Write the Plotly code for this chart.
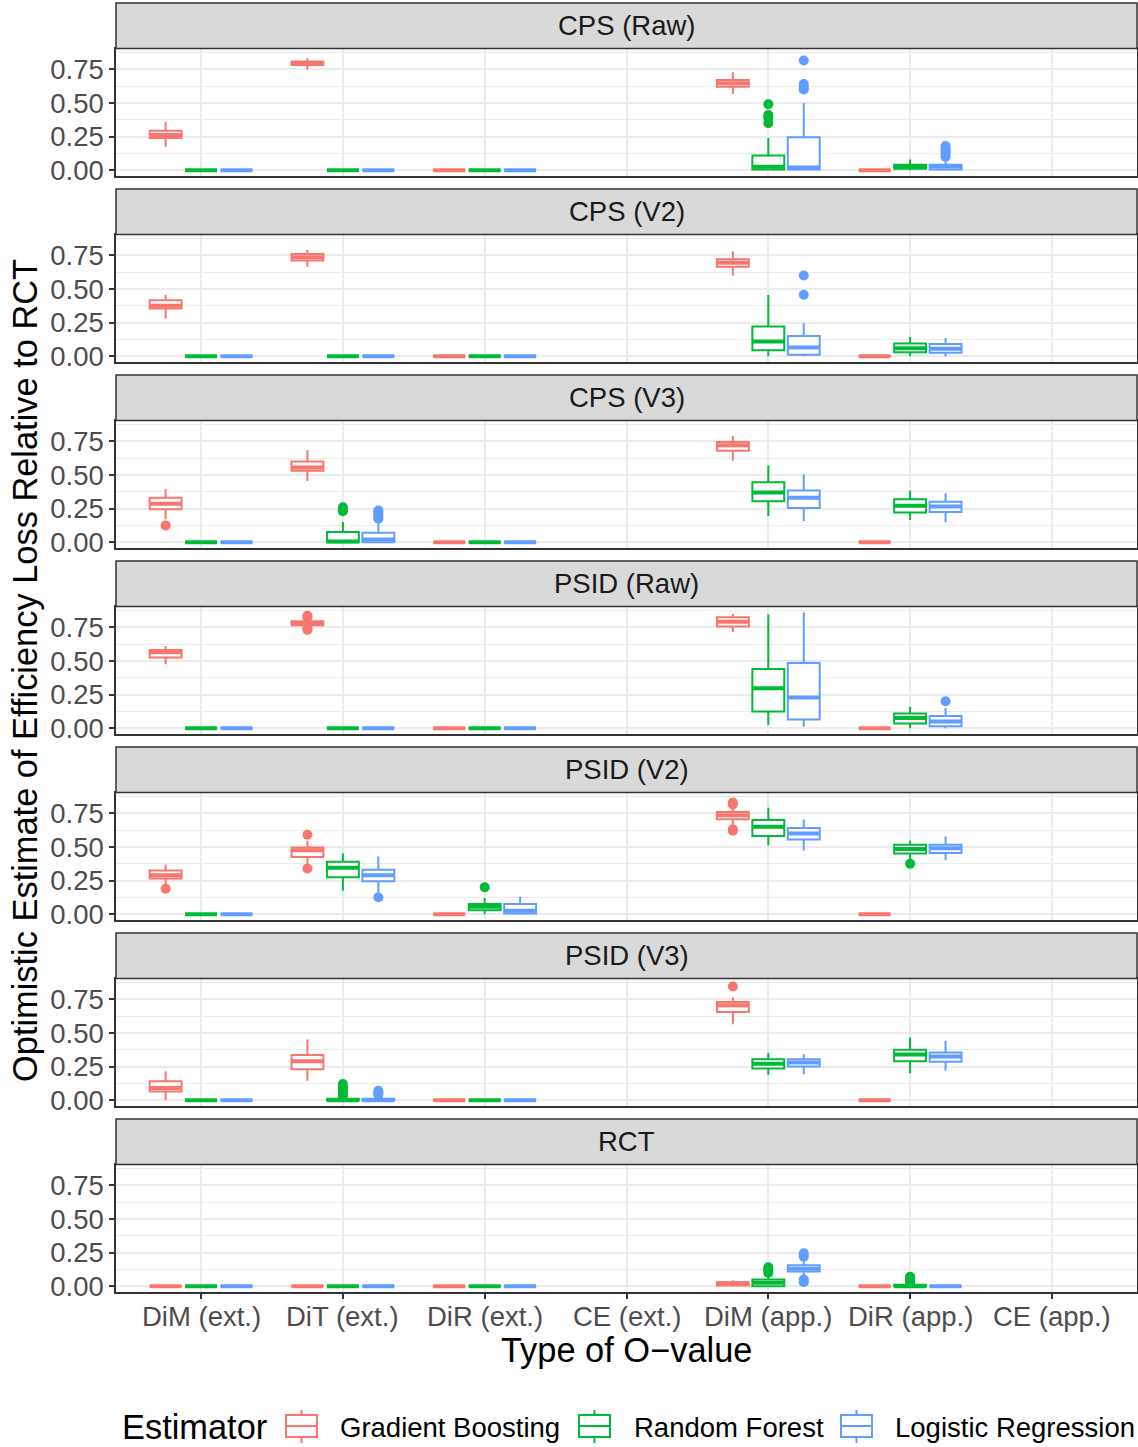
import plotly.graph_objects as go

CATEGORIES = ["DiM (ext.)", "DiT (ext.)", "DiR (ext.)", "CE (ext.)",
              "DiM (app.)", "DiR (app.)", "CE (app.)"]
FACETS = ["CPS (Raw)", "CPS (V2)", "CPS (V3)", "PSID (Raw)",
          "PSID (V2)", "PSID (V3)", "RCT"]
ESTIMATORS = ["Gradient Boosting", "Random Forest", "Logistic Regression"]
COLORS = ["#F8766D", "#00BA38", "#619CFF"]
Y_TICKS = [0, 0.25, 0.5, 0.75]
Y_TICK_LABELS = ["0.00", "0.25", "0.50", "0.75"]

# box statistics: (lower whisker, q1, median, q3, upper whisker); None = no data
Z = (0.0, 0.0, 0.0, 0.0, 0.0)

GB_BOXES = [
    [(0.175, 0.24, 0.262, 0.293, 0.36), (0.748, 0.782, 0.795, 0.807, 0.832), Z, None,
     (0.566, 0.62, 0.645, 0.67, 0.728), Z, None],
    [(0.28, 0.355, 0.375, 0.415, 0.455), (0.665, 0.71, 0.735, 0.76, 0.79), Z, None,
     (0.60, 0.665, 0.695, 0.72, 0.78), Z, None],
    [(0.17, 0.245, 0.285, 0.33, 0.395), (0.455, 0.53, 0.555, 0.60, 0.685), Z, None,
     (0.605, 0.68, 0.72, 0.745, 0.79), Z, None],
    [(0.475, 0.525, 0.565, 0.58, 0.61), (0.75, 0.765, 0.78, 0.795, 0.81), Z, None,
     (0.715, 0.755, 0.79, 0.825, 0.85), Z, None],
    [(0.225, 0.265, 0.29, 0.325, 0.37), (0.375, 0.425, 0.475, 0.495, 0.545), Z, None,
     (0.665, 0.705, 0.735, 0.76, 0.79), Z, None],
    [(0.0, 0.065, 0.09, 0.14, 0.215), (0.145, 0.23, 0.29, 0.335, 0.45), Z, None,
     (0.565, 0.655, 0.705, 0.73, 0.765), Z, None],
    [Z, Z, Z, None, (0.0, 0.005, 0.02, 0.03, 0.045), Z, None],
]

RF_BOXES = [
    [Z, Z, Z, None, (0.0, 0.005, 0.025, 0.11, 0.24), (0.0, 0.01, 0.025, 0.04, 0.08), None],
    [Z, Z, Z, None, (0.0, 0.045, 0.11, 0.22, 0.455), (0.0, 0.03, 0.06, 0.095, 0.145), None],
    [Z, (0.0, 0.0, 0.005, 0.075, 0.15), Z, None, (0.195, 0.305, 0.37, 0.445, 0.57),
     (0.165, 0.22, 0.27, 0.32, 0.385), None],
    [Z, Z, Z, None, (0.025, 0.125, 0.297, 0.44, 0.845), (0.0, 0.035, 0.075, 0.11, 0.16), None],
    [Z, (0.175, 0.275, 0.345, 0.39, 0.45), (0.0, 0.03, 0.055, 0.075, 0.12), None,
     (0.51, 0.58, 0.65, 0.70, 0.79), (0.41, 0.45, 0.485, 0.515, 0.545), None],
    [Z, (0.0, 0.0, 0.0, 0.01, 0.02), Z, None, (0.19, 0.235, 0.27, 0.305, 0.35),
     (0.2, 0.29, 0.34, 0.375, 0.465), None],
    [Z, Z, Z, None, (0.0, 0.0, 0.025, 0.05, 0.085), (0.0, 0.0, 0.0, 0.01, 0.02), None],
]

LR_BOXES = [
    [Z, Z, Z, None, (0.0, 0.005, 0.02, 0.245, 0.50), (0.0, 0.005, 0.027, 0.04, 0.07), None],
    [Z, Z, Z, None, (0.0, 0.01, 0.065, 0.15, 0.245), (0.0, 0.025, 0.055, 0.09, 0.135), None],
    [Z, (0.0, 0.0, 0.02, 0.07, 0.14), Z, None, (0.155, 0.255, 0.33, 0.385, 0.505),
     (0.148, 0.225, 0.265, 0.30, 0.363), None],
    [Z, Z, Z, None, (0.01, 0.064, 0.228, 0.485, 0.861), (0.0, 0.015, 0.05, 0.09, 0.15), None],
    [Z, (0.163, 0.245, 0.29, 0.33, 0.428), (0.0, 0.005, 0.025, 0.075, 0.131), None,
     (0.473, 0.555, 0.60, 0.64, 0.703), (0.40, 0.455, 0.49, 0.515, 0.577), None],
    [Z, (0.0, 0.0, 0.0, 0.01, 0.02), Z, None, (0.193, 0.25, 0.28, 0.305, 0.342),
     (0.22, 0.285, 0.325, 0.355, 0.44), None],
    [Z, Z, Z, None, (0.075, 0.11, 0.13, 0.155, 0.19), Z, None],
]

# outliers: (facet index, category index, values)
GB_OUTLIERS = [(2, 0, [0.125]), (3, 1, [0.825, 0.835, 0.74, 0.73]), (4, 0, [0.19]),
               (4, 1, [0.59, 0.34]), (4, 4, [0.83, 0.815, 0.63, 0.62]), (5, 4, [0.845])]
RF_OUTLIERS = [(0, 4, [0.49, 0.41, 0.39, 0.35]), (2, 1, [0.26, 0.245, 0.23]), (4, 2, [0.2]),
               (4, 5, [0.375]), (5, 1, [0.12, 0.10, 0.08, 0.06, 0.04, 0.03]),
               (6, 4, [0.14, 0.125, 0.11, 0.10]), (6, 5, [0.07, 0.06, 0.05, 0.04, 0.03])]
LR_OUTLIERS = [(0, 4, [0.815, 0.64, 0.62, 0.60]), (0, 5, [0.18, 0.16, 0.14, 0.12, 0.10]),
               (1, 4, [0.60, 0.457]), (2, 1, [0.235, 0.22, 0.205, 0.19, 0.175]),
               (3, 5, [0.2]), (4, 1, [0.126]), (5, 1, [0.07, 0.06, 0.05, 0.04]),
               (6, 4, [0.245, 0.22, 0.05, 0.03])]

ALL_BOXES = [GB_BOXES, RF_BOXES, LR_BOXES]
ALL_OUTLIERS = [GB_OUTLIERS, RF_OUTLIERS, LR_OUTLIERS]

# ---------------- layout geometry (pixels) ----------------
W, H = 1138, 1447
ML, MR, MT, MB = 116, 1, 0, 154
PW = W - ML - MR
PH = H - MT - MB
DODGE = [-0.25, 0.0, 0.25]
BOXW = 0.225
FONT = "Liberation Sans, Arial, Helvetica, sans-serif"
TXT = 27.5
TITLE = 34.4
LEGEND_KEY_X = [286, 579, 841]   # left edge of legend keys
LEGEND_TEXT_X = [338, 632, 893]  # left edge of legend labels
LEGEND_Y = 1427
XTICK_Y = 1316


def yp(px):
    return 1 - (px - MT) / PH


def xp(px):
    return (px - ML) / PW


fig = go.Figure()
layout = {}
shapes = []
annotations = []

n = len(FACETS)
for i, facet in enumerate(FACETS):
    k = i + 1
    xa = "x" if k == 1 else f"x{k}"
    ya = "y" if k == 1 else f"y{k}"
    for e, est in enumerate(ESTIMATORS):
        boxes = ALL_BOXES[e][i]
        xs, lo, q1, md, q3, hi = [], [], [], [], [], []
        for c, b in enumerate(boxes):
            if b is None:
                continue
            xs.append(c + 1 + DODGE[e])
            lo.append(b[0]); q1.append(b[1]); md.append(b[2]); q3.append(b[3]); hi.append(b[4])
        fig.add_trace(go.Box(
            x=xs, q1=q1, median=md, q3=q3, lowerfence=lo, upperfence=hi,
            width=BOXW, whiskerwidth=0, boxpoints=False,
            fillcolor="white", line=dict(color=COLORS[e], width=2),
            name=est, showlegend=False,
            xaxis=xa, yaxis=ya, hoverinfo="skip"))
        # thicker median line (ggplot style)
        mx, my = [], []
        for xv, mv in zip(xs, md):
            mx += [xv - BOXW / 2, xv + BOXW / 2, None]
            my += [mv, mv, None]
        fig.add_trace(go.Scatter(
            x=mx, y=my, mode="lines", line=dict(color=COLORS[e], width=4),
            showlegend=False, xaxis=xa, yaxis=ya, hoverinfo="skip"))
        ox, oy = [], []
        for (f, c, vals) in ALL_OUTLIERS[e]:
            if f == i:
                for v in vals:
                    ox.append(c + 1 + DODGE[e])
                    oy.append(v)
        if ox:
            fig.add_trace(go.Scatter(
                x=ox, y=oy, mode="markers",
                marker=dict(color=COLORS[e], size=10, line=dict(width=0)),
                showlegend=False, xaxis=xa, yaxis=ya, hoverinfo="skip"))

    strip_top = 3 + 186 * i
    panel_top = 48.5 + 186 * i
    panel_bot = 176 + 186 * i
    bottom = (i == n - 1)
    layout["xaxis" if k == 1 else f"xaxis{k}"] = dict(
        domain=[0, 1], anchor=ya, range=[0.4, 7.6], type="linear",
        tickvals=list(range(1, len(CATEGORIES) + 1)), ticktext=CATEGORIES,
        showticklabels=False, ticks="outside" if bottom else "",
        ticklen=5, tickwidth=1.5, tickcolor="#333333",
        showgrid=True, gridcolor="#EBEBEB", gridwidth=2,
        showline=True, mirror=True, linecolor="#333333", linewidth=1.5,
        zeroline=False, fixedrange=True)
    layout["yaxis" if k == 1 else f"yaxis{k}"] = dict(
        domain=[yp(panel_bot), yp(panel_top)], anchor=xa,
        range=[-0.043, 0.904], tickvals=Y_TICKS, ticktext=Y_TICK_LABELS,
        ticks="outside", ticklen=5, tickwidth=1.5, tickcolor="#333333",
        tickfont=dict(size=TXT, color="#4D4D4D", family=FONT),
        showgrid=True, gridcolor="#EBEBEB", gridwidth=2,
        minor=dict(tickvals=[0.125, 0.375, 0.625, 0.875], showgrid=True,
                   gridcolor="#EBEBEB", gridwidth=1, ticks=""),
        showline=True, mirror=True, linecolor="#333333", linewidth=1.5,
        zeroline=False, fixedrange=True)
    shapes.append(dict(type="rect", xref="paper", yref="paper",
                       x0=0, x1=1, y0=yp(panel_top), y1=yp(strip_top),
                       fillcolor="#D9D9D9", line=dict(color="#333333", width=1.5),
                       layer="above"))
    annotations.append(dict(text=facet, xref="paper", yref="paper",
                            x=0.5, y=yp((strip_top + panel_top) / 2),
                            xanchor="center", yanchor="middle", showarrow=False,
                            font=dict(size=TXT, color="#1A1A1A", family=FONT)))

# x tick labels of the bottom panel
bottom_x = f"x{n}"
for c, cat in enumerate(CATEGORIES):
    annotations.append(dict(text=cat, xref=bottom_x, yref="paper", x=c + 1,
                            y=yp(XTICK_Y), xanchor="center", yanchor="middle",
                            showarrow=False,
                            font=dict(size=TXT, color="#4D4D4D", family=FONT)))

# axis titles
annotations.append(dict(text="Type of O\u2212value", xref="paper", yref="paper",
                        x=0.5, y=yp(1350), xanchor="center", yanchor="middle",
                        showarrow=False, font=dict(size=TITLE, color="black", family=FONT)))
annotations.append(dict(text="Optimistic Estimate of Efficiency Loss Relative to RCT",
                        xref="paper", yref="paper", x=xp(25),
                        y=yp(671), xanchor="center", yanchor="middle", textangle=-90,
                        showarrow=False, font=dict(size=TITLE, color="black", family=FONT)))

# legend (ggplot-style box keys)
annotations.append(dict(text="Estimator", xref="paper", yref="paper",
                        x=xp(120), y=yp(LEGEND_Y), xanchor="left", yanchor="middle",
                        showarrow=False, font=dict(size=TITLE, color="black", family=FONT)))
for e, est in enumerate(ESTIMATORS):
    kx0 = LEGEND_KEY_X[e]
    kx1 = kx0 + 31
    kxm = (kx0 + kx1) / 2
    col = COLORS[e]
    shapes.append(dict(type="line", xref="paper", yref="paper",
                       x0=xp(kxm), x1=xp(kxm), y0=yp(1410), y1=yp(1443),
                       line=dict(color=col, width=2)))
    shapes.append(dict(type="rect", xref="paper", yref="paper",
                       x0=xp(kx0), x1=xp(kx1), y0=yp(1437), y1=yp(1415),
                       fillcolor="white", line=dict(color=col, width=2)))
    shapes.append(dict(type="line", xref="paper", yref="paper",
                       x0=xp(kx0), x1=xp(kx1), y0=yp(1426), y1=yp(1426),
                       line=dict(color=col, width=2)))
    annotations.append(dict(text=est, xref="paper", yref="paper",
                            x=xp(LEGEND_TEXT_X[e]), y=yp(LEGEND_Y),
                            xanchor="left", yanchor="middle", showarrow=False,
                            font=dict(size=TXT, color="black", family=FONT)))

fig.update_layout(
    **layout,
    width=W, height=H,
    margin=dict(l=ML, r=MR, t=MT, b=MB, pad=0, autoexpand=False),
    paper_bgcolor="white", plot_bgcolor="white",
    font=dict(family=FONT, color="#1A1A1A"),
    shapes=shapes, annotations=annotations,
    boxmode="overlay", showlegend=False,
)

fig.write_html("out.html",
               config={"displayModeBar": False},
               post_script="document.body.style.margin='0px';"
                           "document.body.style.padding='0px';"
                           "document.body.style.overflow='hidden';")
